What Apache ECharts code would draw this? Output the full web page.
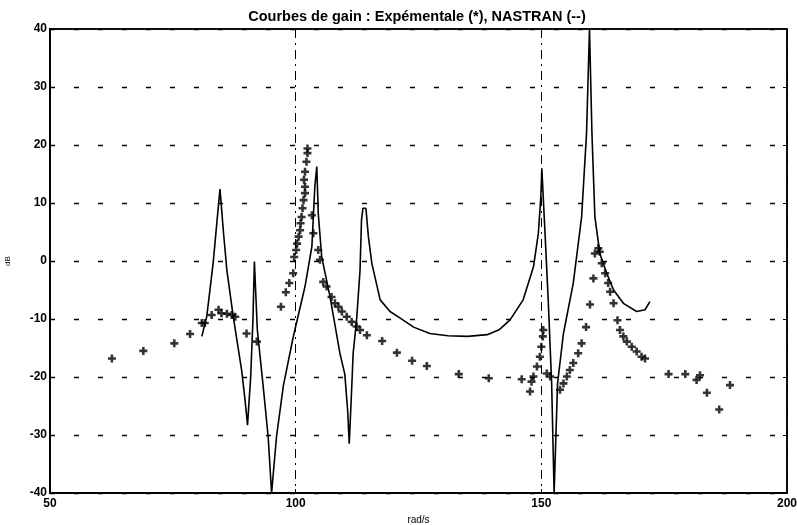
<!DOCTYPE html>
<html>
<head>
<meta charset="utf-8">
<script src="https://cdn.jsdelivr.net/npm/echarts@6/dist/echarts.min.js"></script>
<style>html,body{margin:0;padding:0;background:#fff}#c{width:797px;height:525px}</style>
</head>
<body>
<div id="c"></div>
<script>
// NASTRAN curve (rad/s, dB)
var nastranX = [80.9,81.9,83.2,84.0,84.6,85.3,86.0,87.3,89.0,89.7,90.2,90.85,91.3,91.6,92.2,93.4,94.4,95.1,96.1,97.5,99.5,101.9,103.3,103.9,104.3,104.6,105.3,107.0,109.0,110.0,110.6,110.9,111.3,111.7,112.4,113.1,113.4,113.7,114.3,114.8,115.5,117.2,119.2,121.2,124,127.3,131,135,139,141.5,143.6,146.3,148.4,149.4,149.9,150.1,150.75,151.4,152.1,152.6,153.3,154.5,156.5,158.2,159.2,159.8,160.3,160.9,161.9,163.3,164.7,166.7,169.4,171.1,172.1];
var nastranY = [-13.0,-9.6,-0.4,7.0,12.4,5.0,-1.6,-9.6,-18.8,-24.0,-28.3,-19.9,-10.2,-0.1,-11.9,-21.7,-30.3,-40,-30.3,-21.5,-13.1,-4.4,2.5,12.8,16.3,8.2,0.7,-6.2,-15.9,-19.5,-26,-31.5,-24,-15.9,-10.2,-1.6,7.1,9.1,9.1,4.2,-0.4,-6.7,-8.7,-9.8,-11.4,-12.5,-12.9,-13.0,-12.7,-11.8,-10.2,-6.7,-1.0,4.8,11.1,16.0,4.8,-6.7,-21.1,-40,-21.1,-12.5,-3.8,7.6,22,40,22,7.6,1.3,-2.1,-5.0,-7.3,-8.7,-8.4,-7.0];
// Experimental points (rad/s, dB)
var expX = [62.6,69.0,75.3,78.5,80.9,81.5,82.9,84.3,84.9,86.0,87.0,87.7,90.0,92.1,97.0,98.0,98.7,99.5,99.7,100.1,100.3,100.6,100.9,101.0,101.2,101.4,101.6,101.9,101.9,101.7,101.9,102.2,102.4,102.4,103.3,103.6,104.6,104.95,105.6,106.3,107.3,108.0,108.7,109.4,110.4,111.4,112.4,113.1,114.5,117.6,120.6,123.7,126.7,133.2,139.3,146.0,147.7,148.0,148.4,149.1,149.7,150.0,150.3,150.4,151.1,151.8,153.8,154.5,155.2,155.8,156.5,157.5,158.2,159.1,159.9,160.6,160.9,161.6,161.9,162.3,163.0,163.6,164.0,164.7,165.5,166.0,166.7,167.4,168.4,169.4,170.4,171.1,175.9,179.3,181.6,182.3,183.7,186.2,188.4];
var expY = [-16.8,-15.5,-14.2,-12.6,-10.7,-10.7,-9.3,-8.4,-9.0,-9.1,-9.3,-9.6,-12.5,-13.9,-7.9,-5.4,-3.8,-2.1,0.7,1.9,3.0,4.2,5.3,6.5,7.6,9.1,10.5,11.7,12.8,14.0,15.4,17.1,18.6,19.4,7.9,4.8,1.9,0.2,-3.6,-4.4,-6.2,-7.3,-7.9,-8.7,-9.6,-10.5,-11.3,-11.9,-12.8,-13.8,-15.8,-17.2,-18.1,-19.5,-20.2,-20.4,-22.5,-20.8,-19.9,-18.2,-16.5,-14.8,-13.0,-11.9,-19.4,-19.9,-22.2,-21.1,-19.9,-18.8,-17.6,-15.9,-14.2,-11.4,-7.5,-3.0,1.3,2.2,1.6,-0.4,-2.1,-3.8,-5.3,-7.3,-10.2,-11.9,-13.0,-13.9,-14.8,-15.6,-16.5,-16.8,-19.5,-19.5,-20.5,-19.7,-22.7,-25.6,-21.4];
var titleText = 'Courbes de gain : Expémentale (*), NASTRAN (--)';
var xTitle = 'rad/s';
var yTitle = 'dB';

var curve = nastranX.map(function(x,i){return [x, nastranY[i]];});
var pts = expX.map(function(x,i){return [x, expY[i]];});

var chart = echarts.init(document.getElementById('c'), null, {renderer:'canvas'});
var font = 'Liberation Sans, Arial, sans-serif';
chart.setOption({
  animation: false,
  backgroundColor: '#fff',
  title: {
    text: titleText, left: 412, top: 4, textAlign: 'center',
    textStyle: {fontFamily: font, fontSize: 14.5, fontWeight: 'bold', color: '#000'}
  },
  grid: {left: 50, right: 10, top: 29, bottom: 32, containLabel: false, outerBoundsMode: 'none',
         show: true, borderColor: '#000', borderWidth: 1.5},
  xAxis: [{
    type: 'value', min: 50, max: 200, interval: 50,
    name: xTitle, nameLocation: 'middle', nameGap: 12,
    nameTextStyle: {fontFamily: font, fontSize: 10, color: '#000', verticalAlign: 'top'},
    axisLine: {show: true, onZero: false, lineStyle: {color: '#000', width: 2}},
    axisTick: {show: true, inside: true, length: 4, lineStyle: {color: '#000'}},
    axisLabel: {fontFamily: font, fontSize: 12, fontWeight: 'bold', color: '#000', margin: 5},
    splitLine: {show: true, lineStyle: {color: '#000', width: 1, type: [9, 5, 2, 5]}}
  }, {
    type: 'value', min: 50, max: 200, interval: 50, position: 'top',
    axisLine: {show: true, onZero: false, lineStyle: {color: '#000', width: 1.5}},
    axisTick: {show: true, inside: true, length: 4, lineStyle: {color: '#000'}},
    axisLabel: {show: false}, splitLine: {show: false}
  }],
  yAxis: [{
    type: 'value', min: -40, max: 40, interval: 10,
    name: yTitle, nameLocation: 'middle', nameGap: 38, nameRotate: 90,
    nameTextStyle: {fontFamily: font, fontSize: 8, color: '#000'},
    axisLine: {show: true, onZero: false, lineStyle: {color: '#000', width: 2}},
    axisTick: {show: true, inside: true, length: 4, lineStyle: {color: '#000'}},
    axisLabel: {fontFamily: font, fontSize: 12, fontWeight: 'bold', color: '#000', margin: 3},
    splitLine: {show: true, lineStyle: {color: '#000', width: 1.3, type: [5, 19]}}
  }, {
    type: 'value', min: -40, max: 40, interval: 10, position: 'right',
    axisLine: {show: true, onZero: false, lineStyle: {color: '#000', width: 1.5}},
    axisTick: {show: true, inside: true, length: 4, lineStyle: {color: '#000'}},
    axisLabel: {show: false}, splitLine: {show: false}
  }],
  series: [{
    type: 'line', data: curve, showSymbol: false, symbol: 'none',
    lineStyle: {color: '#000', width: 1.6}, clip: true, z: 3
  }, {
    type: 'scatter', data: pts,
    symbol: 'path://M3.4,0H6.6V3.4H10V6.6H6.6V10H3.4V6.6H0V3.4H3.4Z',
    symbolSize: 8, itemStyle: {color: '#000'}, z: 4
  }]
});
</script>
</body>
</html>
